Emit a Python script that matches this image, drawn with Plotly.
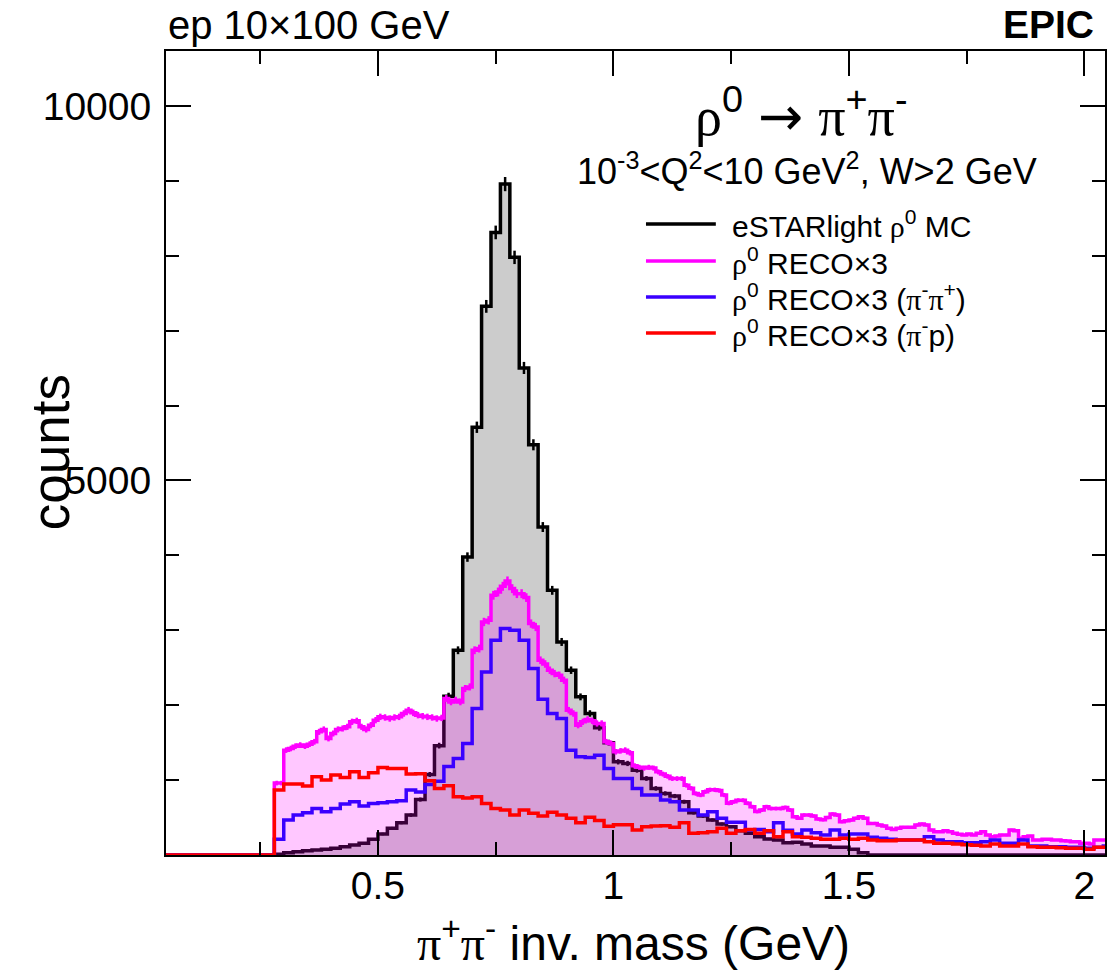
import numpy as np
import plotly.graph_objects as go

# ---------------- data ----------------
mass_lo = 0.04          # lower edge of first bin (GeV)
bw_coarse = 0.02        # bin width of MC / pi-pi+ / pi-p histograms
bw_fine = 0.01          # bin width of the RECO x3 histogram

# eSTARlight rho0 MC, bins of 0.02 GeV starting at 0.04 GeV
mc_counts = [0] * 12 + [
    10, 31, 44, 58, 67, 76, 89, 111, 133, 156,            # 0.28-0.46
    209, 280, 356, 431, 533, 740, 1075, 1460, 2120, 2733,  # 0.48-0.66
    3977, 5710, 7324, 8311, 8956, 7978, 6502, 5476, 4378, 3533,  # 0.68-0.86
    2844, 2467, 2111, 1889, 1700, 1500, 1244, 1222, 1133, 1022,  # 0.88-1.06
    889, 822, 787, 711, 564, 520, 467, 413, 378, 324,      # 1.08-1.26
    289, 244, 213, 200, 164, 170, 147, 120, 120, 102,      # 1.28-1.46
    102, 76, 31,                                          # 1.48-1.52
] + [0] * 26

# rho0 RECO x3 (pi- pi+), bins of 0.02 GeV
pipi_counts = [0] * 12 + [
    209, 467, 533, 564, 622, 578, 622, 680, 711, 653,
    689, 698, 711, 724, 867, 840, 940, 985, 1180, 1289,
    1489, 1956, 2444, 2867, 3022, 3000, 2867, 2489, 2080, 1889,
    1822, 1400, 1311, 1302, 1333, 1156, 1022, 1022, 889, 800,
    800, 733, 711, 600, 600, 533, 578, 489, 436, 436,
    333, 342, 311, 431, 330, 280, 333, 298, 267, 333,
    267, 280, 280, 236, 222, 209, 200, 200, 200, 244,
    200, 178, 178, 164, 164, 178, 200, 156, 156, 200,
    120, 120, 111, 111, 102, 102, 89, 102, 120,
]

# rho0 RECO x3 (pi- p), bins of 0.02 GeV
pip_counts = [0] * 12 + [
    867, 947, 947, 920, 1044, 1000, 1067, 1036, 1111, 1036,
    1098, 1169, 1156, 1156, 1080, 1085, 990, 889, 925, 778,
    760, 778, 689, 622, 600, 533, 600, 556, 520, 570,
    533, 489, 430, 505, 460, 385, 405, 405, 335, 378,
    387, 391, 369, 431, 289, 298, 311, 356, 289, 324,
    342, 289, 324, 244, 311, 244, 236, 222, 209, 209,
    222, 209, 222, 200, 191, 191, 200, 200, 200, 178,
    156, 156, 147, 138, 129, 120, 147, 120, 120, 147,
    111, 102, 102, 98, 89, 89, 76, 102, 102,
]

# rho0 RECO x3 (all), bins of 0.01 GeV starting at 0.04 GeV
reco_counts = [0] * 24 + [
    960, 960, 1400, 1422, 1453, 1467, 1453, 1480, 1511, 1644,      # 0.28-0.37
    1676, 1556, 1622, 1676, 1689, 1711, 1778, 1791, 1711, 1676,    # 0.38-0.47
    1733, 1800, 1844, 1836, 1822, 1836, 1844, 1889, 1933, 1898,    # 0.48-0.57
    1867, 1853, 1844, 1836, 1822, 1830, 2089, 2044, 2067, 2044,    # 0.58-0.67
    2222, 2244, 2733, 2756, 3111, 3133, 3467, 3511, 3587, 3658,    # 0.68-0.77
    3556, 3489, 3489, 3436, 3089, 3044, 2600, 2550, 2467, 2422,    # 0.78-0.87
    2400, 2333, 1933, 1889, 1733, 1778, 1809, 1791, 1756, 1756,    # 0.88-0.97
    1511, 1490, 1378, 1390, 1400, 1364, 1190, 1170, 1160, 1170,    # 0.98-1.07
    1160, 1110, 1080, 1050, 1020, 1020, 1020, 930, 890, 820,       # 1.08-1.17
    800, 845, 870, 870, 860, 800, 690, 710, 730, 730,              # 1.18-1.27
    690, 645, 580, 600, 645, 620, 620, 620, 635, 600,              # 1.28-1.37
    510, 490, 533, 533, 520, 480, 470, 500, 547, 533,              # 1.38-1.47
    444, 458, 467, 489, 511, 489, 422, 422, 400, 387,              # 1.48-1.57
    356, 342, 356, 369, 369, 369, 400, 413, 400, 333,              # 1.58-1.67
    311, 311, 324, 311, 289, 276, 267, 280, 267, 289,              # 1.68-1.77
    311, 267, 244, 253, 267, 267, 333, 324, 222, 244,              # 1.78-1.87
    253, 200, 200, 209, 209, 200, 200, 191, 187, 178,              # 1.88-1.97
    178, 156, 156, 147, 200, 200, 200,                             # 1.98-2.04
]

x_range = [0.05, 2.0436]
y_range = [0, 10733]
x_tick_step, x_minor_step = 0.5, 0.25
y_tickvals = [5000, 10000]
y_ticktext = ["5000", "10000"]
y_minor_step = 1000

SER = "<span style=\"font-family:Liberation Serif\">{}</span>"
RHO = SER.format("ρ")
PI = SER.format("π")

legend_labels = [
    "eSTARlight " + RHO + "<sup>0</sup> MC",
    RHO + "<sup>0</sup> RECO×3",
    RHO + "<sup>0</sup> RECO×3 (" + PI + "<sup>-</sup>" + PI + "<sup>+</sup>)",
    RHO + "<sup>0</sup> RECO×3 (" + PI + "<sup>-</sup>p)",
]

# ---------------- styles ----------------
FONT = "Liberation Sans"
C_BLACK = "#000000"
C_MAG = "#ff00ff"
C_BLUE = "#3a00ff"
C_RED = "#ff0000"
GRAY_FILL = "rgb(204,204,204)"
PINK_FILL = "rgba(255,0,255,0.22)"
LW = 3.5


def step_xy(vals, bw):
    edges = mass_lo + bw * np.arange(len(vals) + 1)
    return list(edges), list(vals) + [vals[-1]]


def err_xy(vals, bw):
    v = np.asarray(vals, dtype=float)
    centers = mass_lo + bw * (np.arange(len(v)) + 0.5)
    m = v > 0
    return centers[m], v[m], np.sqrt(v[m])


fig = go.Figure()

# MC: gray filled + black line
x, y = step_xy(mc_counts, bw_coarse)
fig.add_trace(go.Scatter(x=x, y=y, mode="lines", line_shape="hv",
                         line=dict(color=C_BLACK, width=LW),
                         fill="tozeroy", fillcolor=GRAY_FILL,
                         showlegend=False, hoverinfo="skip"))
ex, ey, ee = err_xy(mc_counts, bw_coarse)
fig.add_trace(go.Scatter(x=ex, y=ey, mode="markers",
                         marker=dict(size=1, color=C_BLACK),
                         error_y=dict(type="data", array=ee, width=0,
                                      thickness=2.5, color=C_BLACK),
                         showlegend=False, hoverinfo="skip"))

# RECO x3: translucent magenta fill + magenta line
x, y = step_xy(reco_counts, bw_fine)
fig.add_trace(go.Scatter(x=x, y=y, mode="lines", line_shape="hv",
                         line=dict(color=C_MAG, width=LW),
                         fill="tozeroy", fillcolor=PINK_FILL,
                         showlegend=False, hoverinfo="skip"))
ex, ey, ee = err_xy(reco_counts, bw_fine)
fig.add_trace(go.Scatter(x=ex, y=ey, mode="markers",
                         marker=dict(size=1, color=C_MAG),
                         error_y=dict(type="data", array=ee, width=0,
                                      thickness=2.5, color=C_MAG),
                         showlegend=False, hoverinfo="skip"))

# pi- pi+ (blue)
x, y = step_xy(pipi_counts, bw_coarse)
fig.add_trace(go.Scatter(x=x, y=y, mode="lines", line_shape="hv",
                         line=dict(color=C_BLUE, width=LW),
                         showlegend=False, hoverinfo="skip"))
# pi- p (red)
x, y = step_xy(pip_counts, bw_coarse)
fig.add_trace(go.Scatter(x=x, y=y, mode="lines", line_shape="hv",
                         line=dict(color=C_RED, width=LW),
                         showlegend=False, hoverinfo="skip"))

# invisible trace for mirrored axes (top / right ticks)
fig.add_trace(go.Scatter(x=[None], y=[None], xaxis="x2", yaxis="y2",
                         showlegend=False, hoverinfo="skip"))

y_minor_vals = list(np.arange(y_minor_step, y_range[1], y_minor_step))

tickfont = dict(family=FONT, size=39, color="black")
xcommon = dict(range=x_range, ticks="inside", ticklen=25, tickwidth=2,
               tickcolor="black", tick0=0, dtick=x_tick_step,
               minor=dict(ticks="inside", ticklen=13, tickwidth=2,
                          tickcolor="black", tick0=0, dtick=x_minor_step),
               showgrid=False, zeroline=False)
ycommon = dict(range=y_range, ticks="inside", ticklen=25, tickwidth=2,
               tickcolor="black", tickmode="array", tickvals=y_tickvals,
               ticktext=y_ticktext,
               minor=dict(ticks="inside", ticklen=13, tickwidth=2,
                          tickcolor="black", tickmode="array",
                          tickvals=y_minor_vals),
               showgrid=False, zeroline=False)

fig.update_layout(
    width=1119, height=973,
    margin=dict(l=166, r=12, t=51, b=118),
    paper_bgcolor="white", plot_bgcolor="white",
    font=dict(family=FONT, color="black"),
    showlegend=False,
    xaxis=dict(**xcommon, showline=True, linecolor="black", linewidth=2,
               mirror=True, tickfont=tickfont, ticklabelstandoff=-5),
    yaxis=dict(**ycommon, showline=True, linecolor="black", linewidth=2,
               mirror=True, tickfont=tickfont, ticklabelstandoff=5),
    xaxis2=dict(**xcommon, overlaying="x", side="top", anchor="y",
                showticklabels=False, showline=False),
    yaxis2=dict(**ycommon, overlaying="y", side="right", anchor="x",
                showticklabels=False, showline=False),
)

# ---------------- text & legend (positions in plot-area pixels) ----------------
PX0, PX1, PY0, PY1 = 166, 1107, 51, 855


def px(xp):
    return (xp - PX0) / (PX1 - PX0)


def py(yp):
    return (PY1 - yp) / (PY1 - PY0)


def ann(text, xp, yp, size, xanchor="center", bold=False, angle=0, family=FONT):
    fig.add_annotation(text=f"<b>{text}</b>" if bold else text,
                       x=px(xp), y=py(yp), xref="paper", yref="paper",
                       xanchor=xanchor, yanchor="middle", showarrow=False,
                       textangle=angle,
                       font=dict(family=family, size=size, color="black"))


ARROW = "<span style=\"font-family:DejaVu Sans\">→</span>"
ann(RHO + "<sup>0</sup> " + ARROW + " " + PI + "<sup>+</sup>" + PI + "<sup>-</sup>",
    802, 113, 54)
ann("ep 10×100 GeV", 166, 25, 40, xanchor="left")
ann("EPIC", 1098, 24, 39, xanchor="right", bold=True)
ann("10<sup>-3</sup>&lt;Q<sup>2</sup>&lt;10 GeV<sup>2</sup>, W&gt;2 GeV", 808, 169, 36)
ann(PI + "<sup>+</sup>" + PI + "<sup>-</sup> inv. mass (GeV)", 634, 940, 48)
ann("counts", 50, 452, 53, angle=-90)

legend_colors = [C_BLACK, C_MAG, C_BLUE, C_RED]
legend_y = [224, 261, 297, 333]
for lab, col, ly in zip(legend_labels, legend_colors, legend_y):
    fig.add_shape(type="line", xref="paper", yref="paper",
                  x0=px(647), x1=px(717), y0=py(ly), y1=py(ly),
                  line=dict(color=col, width=3.5))
    ann(lab, 731, ly, 30, xanchor="left")

fig.write_html(
    "out.html",
    config={"displayModeBar": False},
    post_script="document.body.style.margin='0';document.body.style.overflow='hidden';",
)
